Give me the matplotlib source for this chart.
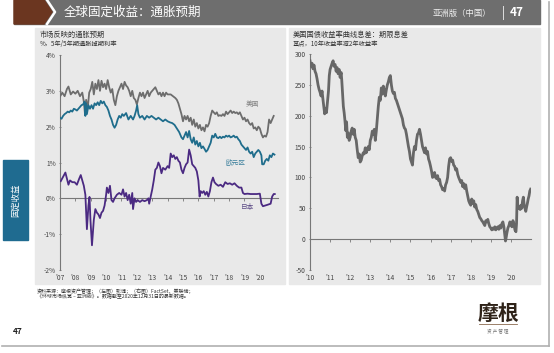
import matplotlib
matplotlib.use("Agg")
import matplotlib.pyplot as plt
from matplotlib.patches import Rectangle, Polygon
from matplotlib.lines import Line2D

plt.rcParams['font.family'] = ['Noto Sans CJK SC', 'DejaVu Sans']
plt.rcParams['axes.unicode_minus'] = False

W, H = 554, 353

# ---- left chart: 5y/5y inflation swap, % ----
us_t = [2007.0, 2007.15, 2007.3, 2007.45, 2007.55, 2007.7, 2007.85, 2008.0, 2008.15, 2008.3,
        2008.45, 2008.55, 2008.63, 2008.7, 2008.8, 2008.9, 2009.0, 2009.1, 2009.2, 2009.3,
        2009.4, 2009.5, 2009.6, 2009.7, 2009.8, 2009.9, 2010.0, 2010.1, 2010.2, 2010.3,
        2010.4, 2010.5, 2010.6, 2010.7, 2010.8, 2010.9, 2011.0, 2011.1, 2011.2, 2011.3,
        2011.4, 2011.5, 2011.6, 2011.7, 2011.8, 2011.9, 2012.0, 2012.1, 2012.2, 2012.3,
        2012.4, 2012.5, 2012.6, 2012.7, 2012.8, 2012.9, 2013.0, 2013.1, 2013.2, 2013.3,
        2013.4, 2013.5, 2013.6, 2013.7, 2013.8, 2013.9, 2014.0, 2014.2, 2014.35, 2014.5,
        2014.6, 2014.7, 2014.8, 2014.9, 2015.0, 2015.1, 2015.2, 2015.3, 2015.4, 2015.5,
        2015.6, 2015.7, 2015.8, 2015.9, 2016.0, 2016.1, 2016.2, 2016.3, 2016.4, 2016.5,
        2016.6, 2016.7, 2016.8, 2016.9, 2017.0, 2017.1, 2017.2, 2017.3, 2017.4, 2017.5,
        2017.6, 2017.7, 2017.8, 2017.9, 2018.0, 2018.1, 2018.2, 2018.3, 2018.4, 2018.5,
        2018.6, 2018.7, 2018.8, 2018.9, 2019.0, 2019.1, 2019.2, 2019.3, 2019.4, 2019.5,
        2019.6, 2019.7, 2019.8, 2019.9, 2020.0, 2020.1, 2020.2, 2020.3, 2020.4, 2020.5,
        2020.6, 2020.7, 2020.8, 2020.9]
us_v = [2.84, 2.95, 2.85, 3.05, 3.12, 2.9, 2.98, 2.92, 3.0, 2.85,
        2.95, 2.7, 2.33, 2.75, 2.5, 2.95, 3.05, 3.25, 2.9, 3.2,
        3.05, 3.3, 3.0, 3.28, 3.1, 3.2, 3.05, 3.3, 3.1, 2.95,
        3.05, 2.75, 2.6, 2.85, 3.0, 3.1, 3.2, 3.05, 3.25, 3.15,
        3.1, 3.0, 2.85, 3.0, 2.8, 2.75, 2.62, 2.8, 2.95, 2.85,
        2.95, 2.8, 2.9, 3.0, 2.85, 2.95, 3.0, 3.05, 3.1, 3.0,
        2.9, 2.95, 2.85, 2.95, 2.85, 2.95, 2.9, 2.9, 2.85, 2.8,
        2.75, 2.65, 2.5, 2.35, 2.15, 2.3, 2.2, 2.3, 2.15, 2.25,
        2.05, 2.2, 2.0, 2.1, 1.95, 2.05, 1.9, 1.98, 1.87, 2.05,
        2.0, 2.1, 2.3, 2.45, 2.4, 2.35, 2.4, 2.3, 2.32, 2.3,
        2.35, 2.3, 2.42, 2.35, 2.4, 2.45, 2.38, 2.42, 2.38, 2.4,
        2.35, 2.4, 2.3, 2.2, 2.25, 2.15, 2.2, 2.1, 2.05, 2.1,
        1.95, 1.98, 1.9, 2.0, 1.95, 1.8, 1.7, 1.75, 1.72, 1.85,
        2.2, 2.1, 2.2, 2.3]

eu_t = [2007.0, 2007.1, 2007.2, 2007.3, 2007.4, 2007.5, 2007.6, 2007.7, 2007.8, 2007.9,
        2008.0, 2008.1, 2008.2, 2008.3, 2008.4, 2008.5, 2008.6, 2008.65, 2008.7, 2008.75,
        2008.85, 2008.95, 2009.05, 2009.15, 2009.25, 2009.35, 2009.45, 2009.55, 2009.65, 2009.75,
        2009.85, 2009.95, 2010.05, 2010.15, 2010.25, 2010.35, 2010.45, 2010.55, 2010.65, 2010.75,
        2010.85, 2010.95, 2011.05, 2011.15, 2011.3, 2011.45, 2011.6, 2011.75, 2011.85, 2011.95,
        2012.02, 2012.1, 2012.2, 2012.35, 2012.5, 2012.65, 2012.8, 2012.95, 2013.1, 2013.25,
        2013.4, 2013.55, 2013.7, 2013.85, 2014.0, 2014.15, 2014.3, 2014.45, 2014.6, 2014.75,
        2014.9, 2015.0, 2015.1, 2015.2, 2015.3, 2015.4, 2015.5, 2015.6, 2015.7, 2015.8,
        2015.9, 2016.0, 2016.1, 2016.2, 2016.3, 2016.4, 2016.5, 2016.6, 2016.7, 2016.8,
        2016.9, 2017.0, 2017.1, 2017.2, 2017.3, 2017.4, 2017.5, 2017.6, 2017.7, 2017.8,
        2017.9, 2018.0, 2018.1, 2018.2, 2018.3, 2018.4, 2018.5, 2018.6, 2018.7, 2018.8,
        2018.9, 2019.0, 2019.1, 2019.2, 2019.3, 2019.4, 2019.5, 2019.6, 2019.7, 2019.8,
        2019.9, 2020.0, 2020.1, 2020.15, 2020.25, 2020.35, 2020.45, 2020.55, 2020.65, 2020.75,
        2020.85, 2020.95]
eu_v = [2.25, 2.22, 2.3, 2.35, 2.38, 2.42, 2.4, 2.45, 2.42, 2.5,
        2.48, 2.45, 2.5, 2.55, 2.6, 2.62, 2.7, 2.3, 2.65, 2.35,
        2.6, 2.5, 2.6, 2.5, 2.65, 2.6, 2.68, 2.6, 2.72, 2.65,
        2.7, 2.6, 2.55, 2.45, 2.3, 2.2, 2.05, 1.97, 2.05, 2.2,
        2.3, 2.25, 2.35, 2.3, 2.38, 2.2, 2.3, 2.2, 2.3, 2.45,
        2.6, 2.35, 2.25, 2.3, 2.2, 2.3, 2.25, 2.3, 2.25, 2.2,
        2.25, 2.2, 2.15, 2.2, 2.15, 2.12, 2.1, 2.05, 1.95, 1.85,
        1.7, 1.65, 1.75, 1.85, 1.7, 1.88, 1.65, 1.55, 1.7, 1.5,
        1.6, 1.45, 1.55, 1.4, 1.45, 1.38, 1.3, 1.35, 1.45, 1.55,
        1.75, 1.7, 1.8, 1.7, 1.68, 1.72, 1.68, 1.72, 1.7, 1.75,
        1.72, 1.75, 1.7, 1.72, 1.75, 1.7, 1.72, 1.65, 1.6, 1.5,
        1.45, 1.4, 1.35, 1.42, 1.3, 1.25, 1.3, 1.15, 1.25, 1.3,
        1.35, 1.3, 1.2, 0.95, 0.95, 1.05, 1.1, 1.05, 1.2, 1.15,
        1.25, 1.22]

jp_t = [2007.05, 2007.2, 2007.35, 2007.45, 2007.55, 2007.65, 2007.8, 2007.95, 2008.1, 2008.25,
        2008.35, 2008.45, 2008.55, 2008.65, 2008.75, 2008.85, 2008.92, 2008.98, 2009.08, 2009.2,
        2009.3, 2009.4, 2009.5, 2009.6, 2009.7, 2009.8, 2009.9, 2010.0, 2010.05, 2010.15,
        2010.25, 2010.35, 2010.45, 2010.55, 2010.7, 2010.85, 2011.0, 2011.1, 2011.2, 2011.3,
        2011.4, 2011.5, 2011.6, 2011.7, 2011.75, 2011.85, 2011.95, 2012.05, 2012.2, 2012.35,
        2012.5, 2012.65, 2012.75, 2012.8, 2012.9, 2013.0, 2013.1, 2013.2, 2013.3, 2013.4,
        2013.5, 2013.6, 2013.7, 2013.85, 2014.0, 2014.1, 2014.2, 2014.3, 2014.4, 2014.5,
        2014.6, 2014.7, 2014.8, 2014.9, 2015.0, 2015.1, 2015.2, 2015.3, 2015.4, 2015.5,
        2015.6, 2015.7, 2015.8, 2015.9, 2016.0, 2016.08, 2016.15, 2016.25, 2016.35, 2016.45,
        2016.55, 2016.65, 2016.75, 2016.85, 2016.95, 2017.05, 2017.15, 2017.3, 2017.45, 2017.6,
        2017.75, 2017.9, 2018.05, 2018.2, 2018.35, 2018.5, 2018.65, 2018.8, 2018.9, 2019.0,
        2019.2, 2019.4, 2019.6, 2019.8, 2020.0, 2020.1, 2020.2, 2020.35, 2020.5, 2020.7,
        2020.8, 2020.9, 2020.97]
jp_v = [0.48, 0.6, 0.72, 0.55, 0.38, 0.5, 0.45, 0.45, 0.38, 0.55,
        0.65, 0.5, 0.35, 0.1, -0.86, -0.2, 0.04, -0.6, -1.31, -0.6,
        -0.3, -0.4, -0.45, -0.55, -0.4, -0.35, -0.2, 0.1, 0.3, 0.15,
        0.35, -0.05, -0.1, 0.0, 0.1, 0.15, 0.1, 0.25, 0.05, 0.15,
        -0.05, 0.1, -0.15, 0.15, -0.3, 0.0, -0.1, -0.05, -0.1, -0.05,
        -0.08, -0.05, 0.0, -0.15, 0.05, 0.25, 0.5, 0.8, 0.85, 1.0,
        0.9, 0.7, 0.85, 0.8, 0.9, 0.85, 1.25, 1.15, 1.2, 1.1,
        1.15, 1.05, 1.0, 0.8, 0.7, 0.85, 0.95, 1.0, 1.36, 1.2,
        0.95, 0.9, 0.85, 0.75, 0.5, 0.05, 0.2, 0.15, 0.2, 0.1,
        0.18, 0.05, 0.2, 0.45, 0.58, 0.45, 0.4, 0.35, 0.38, 0.32,
        0.45, 0.4, 0.42, 0.38, 0.42, 0.35, 0.3, 0.3, 0.15, 0.12,
        0.13, 0.12, 0.12, 0.12, 0.13, -0.15, -0.22, -0.2, -0.18, -0.15,
        0.05, 0.12, 0.12]

left_yticks = [-2, -1, 0, 1, 2, 3, 4]
left_ylabels = ['-2%', '-1%', '0%', '1%', '2%', '3%', '4%']
left_years = list(range(2007, 2021))
left_xlabels = ["'07", "'08", "'09", "'10", "'11", "'12", "'13", "'14", "'15", "'16",
                "'17", "'18", "'19", "'20"]

# ---- right chart: 10y - 2y treasury spread, bp ----
sp_t = [2010.0, 2010.05, 2010.1, 2010.15, 2010.2, 2010.25, 2010.3, 2010.35, 2010.4, 2010.45,
        2010.5, 2010.55, 2010.6, 2010.65, 2010.7, 2010.73, 2010.78, 2010.82, 2010.87, 2010.92,
        2010.96, 2011.0, 2011.05, 2011.1, 2011.15, 2011.2, 2011.25, 2011.3, 2011.35, 2011.4,
        2011.45, 2011.5, 2011.55, 2011.58, 2011.62, 2011.66, 2011.7, 2011.74, 2011.78, 2011.82,
        2011.86, 2011.9, 2011.95, 2012.0, 2012.05, 2012.1, 2012.15, 2012.2, 2012.25, 2012.3,
        2012.35, 2012.4, 2012.45, 2012.5, 2012.55, 2012.6, 2012.65, 2012.7, 2012.75, 2012.8,
        2012.85, 2012.9, 2012.95, 2013.0, 2013.05, 2013.1, 2013.15, 2013.2, 2013.25, 2013.3,
        2013.35, 2013.4, 2013.45, 2013.5, 2013.55, 2013.6, 2013.65, 2013.7, 2013.75, 2013.8,
        2013.85, 2013.9, 2013.95, 2014.0, 2014.05, 2014.1, 2014.15, 2014.2, 2014.25, 2014.3,
        2014.35, 2014.4, 2014.45, 2014.5, 2014.55, 2014.6, 2014.65, 2014.7, 2014.75, 2014.8,
        2014.85, 2014.9, 2014.95, 2015.0, 2015.05, 2015.1, 2015.15, 2015.2, 2015.25, 2015.3,
        2015.35, 2015.4, 2015.45, 2015.5, 2015.55, 2015.6, 2015.65, 2015.7, 2015.75, 2015.8,
        2015.85, 2015.9, 2015.95, 2016.0, 2016.05, 2016.1, 2016.15, 2016.2, 2016.25, 2016.3,
        2016.35, 2016.4, 2016.45, 2016.5, 2016.55, 2016.6, 2016.65, 2016.7, 2016.75, 2016.8,
        2016.85, 2016.9, 2016.95, 2017.0, 2017.05, 2017.1, 2017.15, 2017.2, 2017.25, 2017.3,
        2017.35, 2017.4, 2017.45, 2017.5, 2017.55, 2017.6, 2017.65, 2017.7, 2017.75, 2017.8,
        2017.85, 2017.9, 2017.95, 2018.0, 2018.05, 2018.1, 2018.15, 2018.2, 2018.25, 2018.3,
        2018.35, 2018.4, 2018.45, 2018.5, 2018.55, 2018.6, 2018.65, 2018.7, 2018.75, 2018.8,
        2018.85, 2018.9, 2018.95, 2019.0, 2019.05, 2019.1, 2019.15, 2019.2, 2019.25, 2019.3,
        2019.35, 2019.4, 2019.45, 2019.5, 2019.55, 2019.6, 2019.65, 2019.7, 2019.73, 2019.76,
        2019.8, 2019.85, 2019.9, 2019.95, 2020.0, 2020.05, 2020.1, 2020.15, 2020.2, 2020.25,
        2020.28, 2020.31, 2020.34, 2020.38, 2020.42, 2020.46, 2020.5, 2020.54, 2020.58, 2020.62,
        2020.66, 2020.7, 2020.74, 2020.78, 2020.82, 2020.86, 2020.9, 2020.94, 2020.98]
sp_v = [289, 280, 285, 276, 282, 272, 268, 260, 250, 243,
        238, 232, 240, 225, 212, 203, 212, 205, 222, 240,
        265, 275, 280, 285, 289, 280, 283, 272, 278, 268,
        275, 262, 270, 258, 235, 215, 205, 192, 176, 190,
        165, 172, 160, 165, 175, 180, 170, 178, 165, 160,
        145, 132, 138, 125, 128, 135, 140, 138, 148, 140,
        145, 150, 145, 160, 165, 175, 170, 178, 160, 175,
        195, 215, 230, 225, 245, 235, 248, 240, 232, 242,
        250, 255, 262, 265, 250, 240, 236, 238, 228, 225,
        220, 215, 210, 205, 200, 195, 185, 180, 178, 170,
        160, 150, 142, 130, 125, 120, 140, 150, 145, 160,
        170, 172, 178, 170, 160, 150, 145, 140, 148, 138,
        142, 130, 125, 118, 110, 100, 103, 108, 100, 98,
        103, 95, 97, 88, 85, 80, 82, 78, 88, 92,
        100, 118, 130, 132, 126, 128, 120, 118, 112, 114,
        105, 100, 96, 92, 95, 85, 90, 82, 88, 78,
        70, 62, 58, 55, 65, 58, 62, 52, 56, 48,
        45, 40, 35, 33, 30, 28, 25, 22, 30, 28,
        32, 25, 20, 18, 15, 18, 16, 20, 15, 18,
        20, 16, 22, 18, 25, 28, 20, 5, -3, 2,
        10, 18, 22, 28, 25, 20, 30, 25, 15, 12,
        25, 68, 55, 50, 52, 48, 55, 50, 62, 68,
        55, 50, 45, 52, 58, 65, 70, 78, 81]

right_yticks = [-50, 0, 50, 100, 150, 200, 250, 300]
right_years = list(range(2010, 2021))
right_xlabels = ["'10", "'11", "'12", "'13", "'14", "'15", "'16", "'17", "'18", "'19", "'20"]

# colours
C_US = '#6d6d6d'
C_EU = '#1f6d8c'
C_JP = '#4b2a82'
C_SP = '#676767'
C_PANEL = '#e9e9e9'
C_TEXT = '#333333'


def px(x, y):
    # pixel (from top-left) -> figure fraction
    return x / W, 1 - y / H


def rect(fig, x0, y0, x1, y1, color, z=-5):
    fx, fy = px(x0, y1)
    fig.patches.append(Rectangle((fx, fy), (x1 - x0) / W, (y1 - y0) / H,
                                 transform=fig.transFigure, color=color, zorder=z))


def ftext(fig, x, y, s, **kw):
    fx, fy = px(x, y)
    fig.text(fx, fy, s, **kw)


fig = plt.figure(figsize=(W / 100, H / 100), dpi=100)
fig.patch.set_facecolor('white')

# page edge / shadow
fig.add_artist(Line2D([549 / W, 549 / W], [1 - 2 / H, 1 - 346 / H], transform=fig.transFigure,
                      color='#b0b0b0', lw=1.2))
fig.add_artist(Line2D([2 / W, 549 / W], [1 - 346 / H, 1 - 346 / H], transform=fig.transFigure,
                      color='#b0b0b0', lw=1.2))

# header bar
rect(fig, 14, 0, 540, 24, '#6e6e6e')
brown = Polygon([px(14, 0), px(44, 0), px(52, 12), px(44, 24), px(14, 24)], closed=True,
                transform=fig.transFigure, color='#6b3620', zorder=-4)
fig.patches.append(brown)
fig.add_artist(Line2D([47 / W, 55 / W, 47 / W], [1, 1 - 12 / H, 1 - 24 / H],
                      transform=fig.transFigure, color='white', lw=1.8))
ftext(fig, 64, 12, '全球固定收益：通胀预期', color='white', fontsize=9, va='center', ha='left')
ftext(fig, 491, 13, '亚洲版（中国）', color='#f0f0f0', fontsize=6, va='center', ha='right')
ftext(fig, 503, 12.5, '|', color='white', fontsize=9, va='center', ha='center')
ftext(fig, 517, 12.5, '47', color='white', fontsize=8.5, va='center', ha='center', fontweight='bold')

# side tab
rect(fig, 3, 160, 28, 240, '#1f6b90')
ftext(fig, 15.5, 200, '固定收益', color='white', fontsize=6, rotation=90, va='center', ha='center')

# panels
rect(fig, 35, 28, 285, 284, C_PANEL)
rect(fig, 289, 28, 540, 284, C_PANEL)

ftext(fig, 40, 35, '市场反映的通胀预期', color=C_TEXT, fontsize=5.2, va='center', ha='left')
ftext(fig, 40, 44, '%，5年/5年期通胀掉期利率', color=C_TEXT, fontsize=4.5, va='center', ha='left')
ftext(fig, 293, 35, '美国国债收益率曲线息差：期限息差', color=C_TEXT, fontsize=5.2, va='center', ha='left')
ftext(fig, 293, 44, '基点，10年收益率减2年收益率', color=C_TEXT, fontsize=4.5, va='center', ha='left')

# ---- left axes ----
l0, b0 = px(60, 270)
axl = fig.add_axes([l0, b0, 218 / W, 215 / H])
axl.patch.set_alpha(0)
axl.plot(us_t, us_v, color=C_US, lw=1.3, zorder=3)
axl.plot(eu_t, eu_v, color=C_EU, lw=1.3, zorder=3)
axl.plot(jp_t, jp_v, color=C_JP, lw=1.3, zorder=3)
axl.set_xlim(2007, 2021.18)
axl.set_ylim(-2, 4)
axl.set_yticks(left_yticks)
axl.set_yticklabels(left_ylabels)
axl.set_xticks(left_years)
axl.set_xticklabels(left_xlabels)
axl.text(2019.5, 2.62, '美国', color='#808080', fontsize=4.8, ha='center', va='center')
axl.text(2018.4, 1.0, '欧元区', color='#3b7f9c', fontsize=4.8, ha='center', va='center')
axl.text(2019.2, -0.25, '日本', color='#5b4a85', fontsize=4.8, ha='center', va='center')
sec_l = axl.secondary_xaxis(1 / 3)
sec_l.set_xticks(left_years)
sec_l.tick_params(labelbottom=False, length=2, width=0.6, color='#777777', direction='out')
sec_l.spines['bottom'].set_color('#777777')
sec_l.spines['bottom'].set_linewidth(0.8)

# ---- right axes ----
r0, rb = px(310, 270)
axr = fig.add_axes([r0, rb, 221 / W, 216 / H])
axr.patch.set_alpha(0)
axr.plot(sp_t, sp_v, color=C_SP, lw=2.0, zorder=3)
axr.set_xlim(2010, 2021)
axr.set_ylim(-50, 300)
axr.set_yticks(right_yticks)
axr.set_xticks(right_years)
axr.set_xticklabels(right_xlabels)
sec_r = axr.secondary_xaxis(50 / 350)
sec_r.set_xticks(right_years)
sec_r.tick_params(labelbottom=False, length=2, width=0.6, color='#777777', direction='out')
sec_r.spines['bottom'].set_color('#777777')
sec_r.spines['bottom'].set_linewidth(0.8)

for ax in (axl, axr):
    for s in ('top', 'right', 'bottom'):
        ax.spines[s].set_visible(False)
    ax.spines['left'].set_color('#777777')
    ax.spines['left'].set_linewidth(0.8)
    ax.tick_params(axis='y', labelsize=4.8, labelcolor='#444444', length=2, width=0.6,
                   color='#777777', direction='inout', pad=2)
    ax.tick_params(axis='x', labelsize=4.8, labelcolor='#444444', length=0, pad=3)

# footer
ftext(fig, 37, 291, '资料来源：摩根资产管理；（左图）彭博；（右图）FactSet，美联储；',
      color=C_TEXT, fontsize=3.6, va='center', ha='left')
ftext(fig, 37, 297, '《环球市场纵览 – 亚洲版》。数据截至2020年12月31日的最新数据。',
      color=C_TEXT, fontsize=3.6, va='center', ha='left')
ftext(fig, 18, 332, '47', color='#222222', fontsize=6, fontweight='bold', va='center', ha='center')

ftext(fig, 498, 313, '摩根', color='#2e2218', fontsize=15, fontweight='bold', va='center', ha='center')
fig.add_artist(Line2D([479 / W, 517 / W], [1 - 324 / H, 1 - 324 / H], transform=fig.transFigure,
                      color='#8a6a50', lw=0.6))
ftext(fig, 498, 332, '资 产 管 理', color='#777777', fontsize=3.3, va='center', ha='center')

fig.savefig('out.png', dpi=100, facecolor='white')
